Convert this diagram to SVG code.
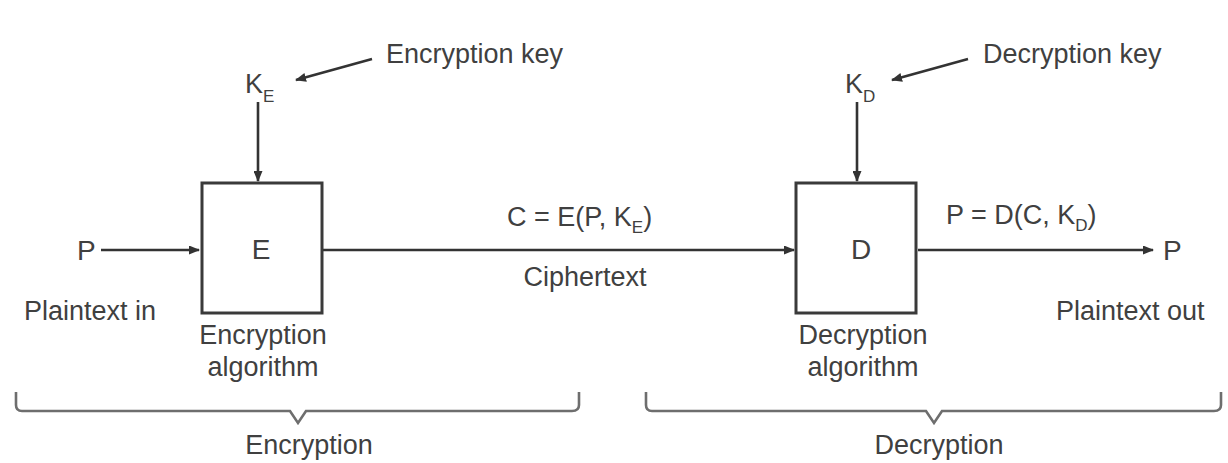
<svg xmlns="http://www.w3.org/2000/svg" width="1228" height="463" viewBox="0 0 1228 463">
  <style>
    text { font-family: "Liberation Sans", Arial, sans-serif; font-size: 27px; fill: #404040; }
    .big { font-size: 28px; }
    .sub { font-size: 17px; }
    .mid { text-anchor: middle; }
    .box { fill: #ffffff; stroke: #3a3a3a; stroke-width: 3; }
    .wire { stroke: #333333; stroke-width: 2.6; fill: none; }
    .brace { stroke: #6e6e6e; stroke-width: 2.6; fill: none; }
  </style>
  <defs>
    <marker id="head" markerWidth="11" markerHeight="9" refX="10" refY="4.5" orient="auto" markerUnits="userSpaceOnUse">
      <path d="M0,0 L11,4.5 L0,9 z" fill="#333333"/>
    </marker>
  </defs>

  <rect width="1228" height="463" fill="#ffffff"/>

  <!-- connectors -->
  <g id="connectors">
    <line class="wire" x1="101" y1="250" x2="199" y2="250" marker-end="url(#head)"/>
    <line class="wire" x1="322" y1="250" x2="794" y2="250" marker-end="url(#head)"/>
    <line class="wire" x1="918" y1="250" x2="1153" y2="250" marker-end="url(#head)"/>
    <line class="wire" x1="258" y1="102" x2="258" y2="181" marker-end="url(#head)"/>
    <line class="wire" x1="857" y1="102" x2="857" y2="181" marker-end="url(#head)"/>
    <line class="wire" x1="372" y1="59" x2="296" y2="80" marker-end="url(#head)"/>
    <line class="wire" x1="968" y1="59" x2="892" y2="80" marker-end="url(#head)"/>
  </g>

  <!-- encryption side -->
  <g id="plaintext-in">
    <text class="big" x="77" y="260">P</text>
    <text x="24" y="320">Plaintext in</text>
  </g>

  <g id="enc-key">
    <text x="245" y="93">K<tspan class="sub" dy="9">E</tspan></text>
    <text x="386" y="63">Encryption key</text>
  </g>

  <g id="encrypt">
    <rect class="box" x="202" y="183" width="120" height="130"/>
    <text class="big mid" x="261" y="259">E</text>
    <text class="mid" x="263" y="344">Encryption</text>
    <text class="mid" x="263" y="376">algorithm</text>
  </g>

  <g id="ciphertext">
    <text x="507" y="226">C = E(P, K<tspan class="sub" dy="7">E</tspan><tspan dy="-7">)</tspan></text>
    <text class="mid" x="585" y="286">Ciphertext</text>
  </g>

  <!-- decryption side -->
  <g id="dec-key">
    <text x="845" y="93">K<tspan class="sub" dy="9">D</tspan></text>
    <text x="983" y="63">Decryption key</text>
  </g>

  <g id="decrypt">
    <rect class="box" x="796" y="183" width="120" height="130"/>
    <text class="big mid" x="861" y="259">D</text>
    <text class="mid" x="863" y="344">Decryption</text>
    <text class="mid" x="863" y="376">algorithm</text>
  </g>

  <g id="plaintext-out">
    <text x="946" y="224">P = D(C, K<tspan class="sub" dy="7">D</tspan><tspan dy="-7">)</tspan></text>
    <text class="big" x="1163" y="260">P</text>
    <text x="1056" y="320">Plaintext out</text>
  </g>

  <!-- stage braces -->
  <g id="stage-encryption">
    <path class="brace" d="M16,392 V405 Q16,411 22,411 H290 L298,423 L306,411 H572 Q579,411 579,405 V392"/>
    <text class="mid" x="309" y="454">Encryption</text>
  </g>

  <g id="stage-decryption">
    <path class="brace" d="M646,392 V405 Q646,411 652,411 H926 L934,423 L942,411 H1214 Q1221,411 1221,405 V392"/>
    <text class="mid" x="939" y="454">Decryption</text>
  </g>
</svg>
